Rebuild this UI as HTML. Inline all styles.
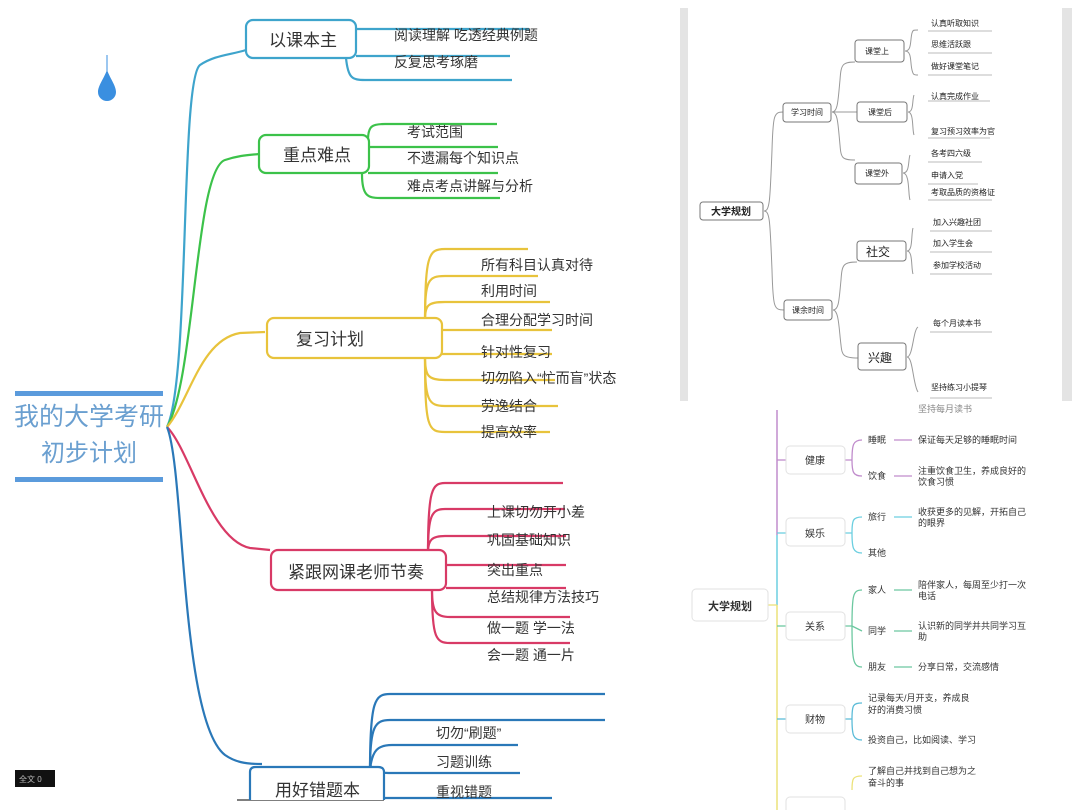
<!DOCTYPE html>
<html><head><meta charset="utf-8"><style>
html,body{margin:0;padding:0;background:#fff;}
svg{display:block;font-family:"Liberation Sans","Noto Sans CJK SC",sans-serif;}
</style></head><body>
<svg width="1080" height="810" viewBox="0 0 1080 810" xmlns="http://www.w3.org/2000/svg">
<rect width="1080" height="810" fill="#fff"/>
<!-- LEFT MINDMAP -->
<rect x="15" y="391" width="148" height="5" fill="#5b9bdc"/>
<rect x="15" y="477" width="148" height="5" fill="#5b9bdc"/>
<text x="89" y="425" font-size="25" fill="#6a9fd0" text-anchor="middle">我的大学考研</text>
<text x="89" y="461" font-size="24" fill="#6a9fd0" text-anchor="middle">初步计划</text>
<line x1="107" y1="55" x2="107" y2="72" stroke="#3a8fe0" stroke-width="1"/>
<path d="M107,70 C103,80 98,86 98,92 A9,9 0 0 0 116,92 C116,86 111,80 107,70Z" fill="#3a8fe0"/>

<g fill="none" stroke-width="2.2">
<path d="M167,427 C190,380 180,80 200,65 C215,55 230,55 246,50" stroke="#3ea4cc"/>
<path d="M167,427 C195,380 195,170 225,160 C240,155 250,155 259,154" stroke="#3cc24a"/>
<path d="M167,427 C190,400 200,340 240,333 L265,332" stroke="#e8c33c"/>
<path d="M167,427 C190,450 210,540 250,548 L270,550" stroke="#d83a66"/>
<path d="M167,427 C185,470 180,720 225,755 C235,762 245,764 262,764" stroke="#2a78b8"/>
<!-- blue top branches -->
<path d="M356,29 L529,29" stroke="#3ea4cc"/>
<path d="M356,56 L510,56" stroke="#3ea4cc"/>
<path d="M346,58 C348,78 352,80 365,80 L512,80" stroke="#3ea4cc"/>
<!-- green branches -->
<path d="M368,140 C368,126 372,124 385,124 L497,124" stroke="#3cc24a"/>
<path d="M368,147 L498,147" stroke="#3cc24a"/>
<path d="M368,173 L498,173" stroke="#3cc24a"/>
<path d="M362,174 C362,196 368,198 380,198 L500,198" stroke="#3cc24a"/>
<!-- yellow -->
<path d="M425,330 C425,255 428,249 445,249 L528,249" stroke="#e8c33c"/>
<path d="M425,320 C425,280 428,276 445,276 L538,276" stroke="#e8c33c"/>
<path d="M425,320 C425,305 428,302 445,302 L550,302" stroke="#e8c33c"/>
<path d="M440,330 L552,330" stroke="#e8c33c"/>
<path d="M440,354 L552,354" stroke="#e8c33c"/>
<path d="M425,357 C425,376 428,380 445,380 L555,380" stroke="#e8c33c"/>
<path d="M425,357 C425,400 428,406 445,406 L558,406" stroke="#e8c33c"/>
<path d="M425,357 C425,428 428,432 445,432 L550,432" stroke="#e8c33c"/>
<!-- red -->
<path d="M428,552 C428,490 432,483 445,483 L563,483" stroke="#d83a66"/>
<path d="M428,552 C428,515 432,509 445,509 L565,509" stroke="#d83a66"/>
<path d="M428,552 C428,540 432,536 445,536 L566,536" stroke="#d83a66"/>
<path d="M446,565 L566,565" stroke="#d83a66"/>
<path d="M446,588 L566,588" stroke="#d83a66"/>
<path d="M432,590 C432,612 436,617 450,617 L570,617" stroke="#d83a66"/>
<path d="M432,590 C432,638 436,643 450,643 L570,643" stroke="#d83a66"/>
<!-- blue bottom -->
<path d="M370,770 C370,700 375,694 390,694 L605,694" stroke="#2a78b8"/>
<path d="M370,770 C370,726 375,720 390,720 L605,720" stroke="#2a78b8"/>
<path d="M370,770 C372,750 378,745 392,745 L518,745" stroke="#2a78b8"/>
<path d="M370,765 C375,773 380,773 392,773 L520,773" stroke="#2a78b8"/>
<path d="M384,798 L552,798" stroke="#2a78b8"/>
</g>
<line x1="237" y1="800" x2="384" y2="800" stroke="#555" stroke-width="1.5"/>

<g fill="#fff" stroke-width="2.2">
<rect x="246" y="20" width="110" height="38" rx="7" stroke="#3ea4cc"/>
<rect x="259" y="135" width="110" height="38" rx="7" stroke="#3cc24a"/>
<rect x="267" y="318" width="175" height="40" rx="7" stroke="#e8c33c"/>
<rect x="271" y="550" width="175" height="40" rx="7" stroke="#d83a66"/>
<path d="M250,800 L250,772 Q250,767 256,767 L378,767 Q384,767 384,772 L384,800" stroke="#2a78b8"/>
</g>
<g fill="#333" font-size="16">
<text x="269" y="46" font-size="17">以课本主</text>
<text x="283" y="161" font-size="17">重点难点</text>
<text x="296" y="345" font-size="17">复习计划</text>
<text x="288" y="578" font-size="17">紧跟网课老师节奏</text>
<text x="275" y="796" font-size="17">用好错题本</text>
</g>
<g fill="#333" font-size="14">
<text x="394" y="40">阅读理解  吃透经典例题</text>
<text x="394" y="67">反复思考琢磨</text>
<text x="407" y="137">考试范围</text>
<text x="407" y="163">不遗漏每个知识点</text>
<text x="407" y="191">难点考点讲解与分析</text>
<text x="481" y="270">所有科目认真对待</text>
<text x="481" y="296">利用时间</text>
<text x="481" y="325">合理分配学习时间</text>
<text x="481" y="357">针对性复习</text>
<text x="481" y="383">切勿陷入“忙而盲”状态</text>
<text x="481" y="411">劳逸结合</text>
<text x="481" y="437">提高效率</text>
<text x="487" y="517">上课切勿开小差</text>
<text x="487" y="545">巩固基础知识</text>
<text x="487" y="575">突出重点</text>
<text x="487" y="602">总结规律方法技巧</text>
<text x="487" y="633">做一题  学一法</text>
<text x="487" y="660">会一题  通一片</text>
<text x="436" y="738">切勿“刷题”</text>
<text x="436" y="767">习题训练</text>
<text x="436" y="797">重视错题</text>
</g>
<rect x="15" y="770" width="40" height="17" fill="#111"/>
<text x="19" y="782" font-size="8" fill="#bbb">全文  0</text>

<!-- RIGHT TOP PANEL -->
<rect x="680" y="8" width="8" height="393" fill="#e4e4e4"/>
<rect x="1062" y="8" width="10" height="393" fill="#e4e4e4"/>
<g fill="none" stroke="#999" stroke-width="1">
<path d="M764,211 C770,211 770,200 772,150 C773,115 774,112 783,112"/>
<path d="M764,211 C770,211 770,222 772,270 C773,308 774,310 784,310"/>
<path d="M832,112 C838,112 838,100 840,80 C841,65 842,62 855,62"/>
<path d="M832,112 L857,112"/>
<path d="M832,112 C838,112 838,125 840,145 C841,158 842,160 855,160"/>
<path d="M833,310 C839,310 839,300 841,280 C842,265 843,262 857,262"/>
<path d="M833,310 C839,310 839,330 841,345 C842,355 843,358 858,358"/>
<path d="M905,51 C912,51 910,40 912,33 C913,30 913,30 918,30 M905,51 C912,51 910,62 912,70 C913,74 913,75 918,75"/>
<path d="M908,112 C914,112 912,100 914,95 M908,112 C914,112 912,130 914,135"/>
<path d="M903,173 C910,173 908,160 910,155 M903,173 C910,173 908,195 910,200"/>
<path d="M907,251 C913,251 911,235 913,228 M907,251 C913,251 911,268 913,274"/>
<path d="M907,357 C913,357 913,330 918,327 M907,357 C913,357 913,385 918,392"/>
</g>
<g stroke="#bbb" stroke-width="1">
<line x1="928" y1="31" x2="992" y2="31"/><line x1="928" y1="53" x2="992" y2="53"/><line x1="928" y1="75" x2="992" y2="75"/>
<line x1="928" y1="101" x2="990" y2="101"/><line x1="928" y1="138" x2="990" y2="138"/>
<line x1="928" y1="162" x2="982" y2="162"/><line x1="928" y1="184" x2="978" y2="184"/><line x1="928" y1="200" x2="992" y2="200"/>
<line x1="930" y1="231" x2="992" y2="231"/><line x1="930" y1="252" x2="992" y2="252"/><line x1="930" y1="274" x2="992" y2="274"/>
<line x1="930" y1="332" x2="992" y2="332"/><line x1="930" y1="398" x2="992" y2="398"/>
</g>
<g fill="#fff" stroke="#777" stroke-width="1">
<rect x="700" y="202" width="63" height="18" rx="3"/>
<rect x="783" y="103" width="48" height="19" rx="3"/>
<rect x="784" y="300" width="48" height="20" rx="3"/>
<rect x="855" y="40" width="49" height="22" rx="3"/>
<rect x="857" y="102" width="50" height="20" rx="3"/>
<rect x="855" y="163" width="47" height="21" rx="3"/>
<rect x="857" y="241" width="49" height="20" rx="3"/>
<rect x="858" y="343" width="48" height="27" rx="3"/>
</g>
<g fill="#222" font-size="8">
<text x="731" y="215" font-size="10" font-weight="bold" text-anchor="middle">大学规划</text>
<text x="807" y="115" text-anchor="middle">学习时间</text>
<text x="808" y="313" text-anchor="middle">课余时间</text>
<text x="877" y="54" text-anchor="middle">课堂上</text>
<text x="880" y="115" text-anchor="middle">课堂后</text>
<text x="877" y="176" text-anchor="middle">课堂外</text>
<text x="878" y="256" font-size="12" text-anchor="middle">社交</text>
<text x="880" y="362" font-size="12" text-anchor="middle">兴趣</text>
<text x="931" y="26">认真听取知识</text>
<text x="931" y="47">思维活跃跟</text>
<text x="931" y="69">做好课堂笔记</text>
<text x="931" y="99">认真完成作业</text>
<text x="931" y="134">复习预习效率为官</text>
<text x="931" y="156">各考四六级</text>
<text x="931" y="178">申请入党</text>
<text x="931" y="195">考取品质的资格证</text>
<text x="933" y="225">加入兴趣社团</text>
<text x="933" y="246">加入学生会</text>
<text x="933" y="268">参加学校活动</text>
<text x="933" y="326">每个月读本书</text>
<text x="931" y="390">坚持练习小提琴</text>
</g>

<!-- RIGHT BOTTOM PANEL -->
<line x1="777" y1="410" x2="777" y2="535" stroke="#c08ccc" stroke-width="1.5"/>
<line x1="777" y1="535" x2="777" y2="605" stroke="#6ccfe0" stroke-width="1.5"/>
<line x1="777" y1="605" x2="777" y2="810" stroke="#ece27a" stroke-width="1.5"/>
<g fill="none" stroke-width="1.3">
<path d="M768,605 L777,605" stroke="#ece27a"/>
<path d="M777,460 L786,460" stroke="#c08ccc"/>
<path d="M777,533 L786,533" stroke="#6ccfe0"/>
<path d="M777,626 L786,626" stroke="#6cc8a0"/>
<path d="M777,719 L786,719" stroke="#5cbcd8"/>
<path d="M845,460 L852,460 M852,460 C852,445 853,440 862,440 M852,460 C852,472 853,476 862,476" stroke="#c08ccc"/>
<path d="M845,533 L852,533 M852,533 C852,520 853,517 862,517 M852,533 C852,548 853,553 862,553" stroke="#6ccfe0"/>
<path d="M845,626 L852,626 M852,626 C852,595 853,590 862,590 M852,626 L862,631 M852,626 C852,660 853,667 862,667" stroke="#6cc8a0"/>
<path d="M845,719 L852,719 M852,719 C852,705 853,703 862,703 M852,719 C852,735 853,740 862,740" stroke="#5cbcd8"/>
<path d="M852,790 C852,778 853,776 862,776" stroke="#ece27a"/>
<path d="M894,440 L912,440 M894,476 L912,476" stroke="#c08ccc"/>
<path d="M894,517 L912,517" stroke="#6ccfe0"/>
<path d="M894,590 L912,590 M894,631 L912,631 M894,667 L912,667" stroke="#6cc8a0"/>
</g>
<g fill="#fff" stroke="#e2e2e2" stroke-width="1">
<rect x="692" y="589" width="76" height="32" rx="4"/>
<rect x="786" y="446" width="59" height="28" rx="4"/>
<rect x="786" y="518" width="59" height="28" rx="4"/>
<rect x="786" y="612" width="59" height="28" rx="4"/>
<rect x="786" y="705" width="59" height="28" rx="4"/>
<rect x="786" y="797" width="59" height="28" rx="4"/>
</g>
<g fill="#333" font-size="9">
<text x="730" y="610" font-size="11" font-weight="bold" text-anchor="middle">大学规划</text>
<text x="815" y="464" font-size="10" text-anchor="middle">健康</text>
<text x="815" y="537" font-size="10" text-anchor="middle">娱乐</text>
<text x="815" y="630" font-size="10" text-anchor="middle">关系</text>
<text x="815" y="723" font-size="10" text-anchor="middle">财物</text>
<text x="918" y="412" fill="#888">坚持每月读书</text>
<text x="868" y="443">睡眠</text><text x="868" y="479">饮食</text>
<text x="868" y="520">旅行</text><text x="868" y="556">其他</text>
<text x="868" y="593">家人</text><text x="868" y="634">同学</text><text x="868" y="670">朋友</text>
<text x="918" y="443">保证每天足够的睡眠时间</text>
<text x="918" y="474">注重饮食卫生，养成良好的</text><text x="918" y="485">饮食习惯</text>
<text x="918" y="515">收获更多的见解，开拓自己</text><text x="918" y="526">的眼界</text>
<text x="918" y="588">陪伴家人，每周至少打一次</text><text x="918" y="599">电话</text>
<text x="918" y="629">认识新的同学并共同学习互</text><text x="918" y="640">助</text>
<text x="918" y="670">分享日常，交流感情</text>
<text x="868" y="701">记录每天/月开支，养成良</text><text x="868" y="713">好的消费习惯</text>
<text x="868" y="743">投资自己，比如阅读、学习</text>
<text x="868" y="774">了解自己并找到自己想为之</text><text x="868" y="786">奋斗的事</text>
</g>
</svg>
</body></html>
